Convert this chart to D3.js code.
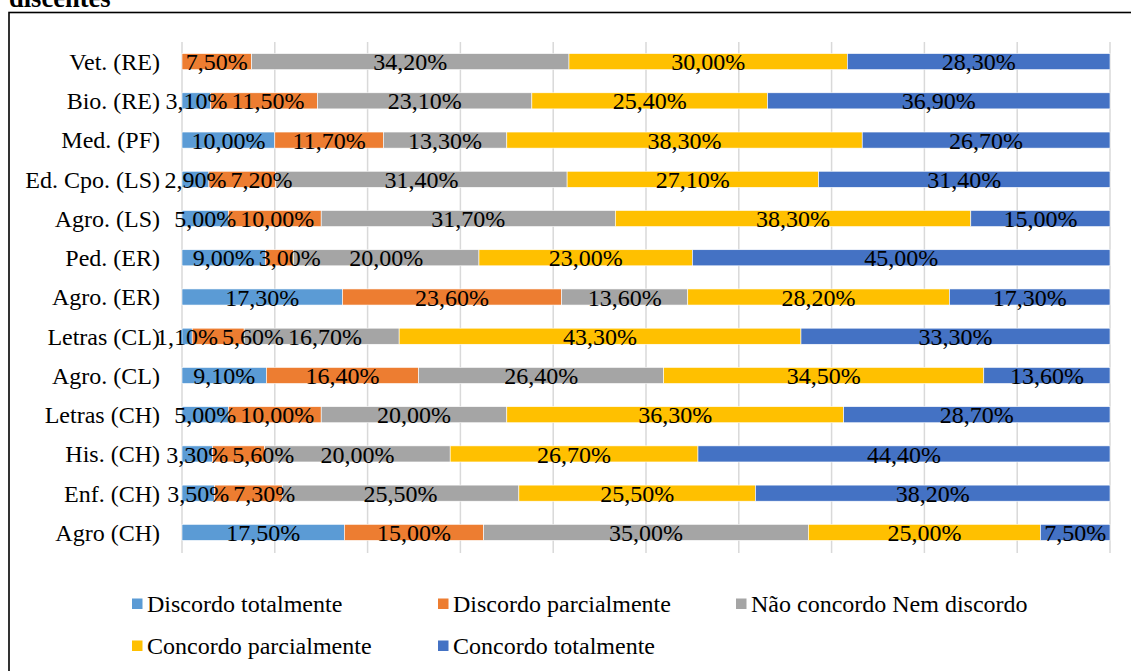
<!DOCTYPE html>
<html>
<head>
<meta charset="utf-8">
<script src="https://cdnjs.cloudflare.com/ajax/libs/d3/7.8.5/d3.min.js"></script>
<style>
  html, body { margin: 0; padding: 0; background: #fff; }
  svg { display: block; font-family: "Liberation Serif", "Times New Roman", serif; }
</style>
</head>
<body>
<svg id="chart" width="1131" height="671"></svg>
<script>
// Cursos avaliados (de cima para baixo)
const categories = [
  "Vet. (RE)", "Bio. (RE)", "Med. (PF)", "Ed. Cpo. (LS)", "Agro. (LS)",
  "Ped. (ER)", "Agro. (ER)", "Letras (CL)", "Agro. (CL)", "Letras (CH)",
  "His. (CH)", "Enf. (CH)", "Agro (CH)"
];

const seriesNames = [
  "Discordo totalmente",
  "Discordo parcialmente",
  "Não concordo Nem discordo",
  "Concordo parcialmente",
  "Concordo totalmente"
];

const seriesColors = ["#5B9BD5", "#ED7D31", "#A5A5A5", "#FFC000", "#4472C4"];

// Percentuais por categoria de resposta
const discordoTotalmente    = [0,    3.1, 10.0,  2.9,  5.0,  9.0, 17.3,  1.1,  9.1,  5.0,  3.3,  3.5, 17.5];
const discordoParcialmente  = [7.5, 11.5, 11.7,  7.2, 10.0,  3.0, 23.6,  5.6, 16.4, 10.0,  5.6,  7.3, 15.0];
const naoConcordoNemDiscordo= [34.2, 23.1, 13.3, 31.4, 31.7, 20.0, 13.6, 16.7, 26.4, 20.0, 20.0, 25.5, 35.0];
const concordoParcialmente  = [30.0, 25.4, 38.3, 27.1, 38.3, 23.0, 28.2, 43.3, 34.5, 36.3, 26.7, 25.5, 25.0];
const concordoTotalmente    = [28.3, 36.9, 26.7, 31.4, 15.0, 45.0, 17.3, 33.3, 13.6, 28.7, 44.4, 38.2,  7.5];

const gridTicks = [0, 10, 20, 30, 40, 50, 60, 70, 80, 90, 100];

const seriesValues = [
  discordoTotalmente, discordoParcialmente, naoConcordoNemDiscordo,
  concordoParcialmente, concordoTotalmente
];

const rows = categories.map((c, i) => {
  const r = { category: c };
  seriesNames.forEach((s, k) => { r[s] = seriesValues[k][i]; });
  return r;
});

const FONT = 24;
const svg = d3.select("#chart");

// Moldura e título
svg.append("text")
  .attr("x", 9).attr("y", 7)
  .attr("font-size", 26.5).attr("font-weight", "bold")
  .attr("fill", "#000")
  .text("discentes");

svg.append("rect")
  .attr("x", 9).attr("y", 12.5)
  .attr("width", 1140).attr("height", 680)
  .attr("fill", "none").attr("stroke", "#000").attr("stroke-width", 1.6);

const x = d3.scaleLinear().domain([0, 100]).range([182, 1110]);
const y = d3.scaleBand().domain(categories).range([42, 552]).paddingInner(0.59).paddingOuter(0.295);

// Linhas de grade verticais
svg.append("g")
  .selectAll("line")
  .data(gridTicks)
  .join("line")
  .attr("x1", d => x(d)).attr("x2", d => x(d))
  .attr("y1", 42).attr("y2", 553)
  .attr("stroke", "#D9D9D9").attr("stroke-width", 1.5);

const stacked = d3.stack().keys(seriesNames)(rows);

const layers = svg.append("g")
  .selectAll("g")
  .data(stacked)
  .join("g")
  .attr("fill", (d, i) => seriesColors[i]);

layers.selectAll("rect")
  .data(d => d.filter(p => p[1] - p[0] > 0))
  .join("rect")
  .attr("x", d => x(d[0]))
  .attr("y", d => y(d.data.category))
  .attr("width", d => x(d[1]) - x(d[0]))
  .attr("height", y.bandwidth())
  .attr("stroke", "#fff").attr("stroke-width", 0.6);

// Rótulos das categorias
const yAxis = d3.axisLeft(y).tickSize(0).tickPadding(0);
const yAxisG = svg.append("g").attr("transform", "translate(160,0)").call(yAxis);
yAxisG.select(".domain").remove();
yAxisG.selectAll("text")
  .attr("font-family", "Liberation Serif, Times New Roman, serif")
  .attr("font-size", FONT)
  .attr("fill", "#000")
  .attr("dy", "0.35em");

// Rótulos de valores: centrados no segmento e afastados quando se sobrepõem
const fmt = v => v.toFixed(2).replace(".", ",") + "%";
const labels = svg.append("g");
const GAP = 4;
categories.forEach((cat, i) => {
  const items = [];
  stacked.forEach(layer => {
    const p = layer[i];
    if (p[1] - p[0] <= 0) return;
    const t = labels.append("text")
      .attr("y", y(cat) + y.bandwidth() / 2)
      .attr("dy", "0.36em")
      .attr("text-anchor", "middle")
      .attr("font-size", FONT)
      .attr("fill", "#000")
      .text(fmt(p[1] - p[0]));
    const w = t.node().getComputedTextLength();
    items.push({ t, w, cx: x((p[0] + p[1]) / 2) });
  });
  let prevRight = -Infinity;
  items.forEach(it => {
    if (it.cx - it.w / 2 < prevRight + GAP) it.cx = prevRight + GAP + it.w / 2;
    prevRight = it.cx + it.w / 2;
    it.t.attr("x", it.cx);
  });
});

// Legenda
const legendPos = [
  { x: 132, y: 604 }, { x: 438, y: 604 }, { x: 736, y: 604 },
  { x: 132, y: 646 }, { x: 438, y: 646 }
];
const legend = svg.append("g")
  .selectAll("g")
  .data(seriesNames)
  .join("g")
  .attr("transform", (d, i) => `translate(${legendPos[i].x},${legendPos[i].y})`);

legend.append("rect")
  .attr("x", 0).attr("y", -5.5)
  .attr("width", 10.5).attr("height", 10.5)
  .attr("fill", (d, i) => seriesColors[i]);

legend.append("text")
  .attr("x", 15).attr("y", 0).attr("dy", "0.35em")
  .attr("font-size", FONT)
  .attr("fill", "#000")
  .text(d => d);
</script>
</body>
</html>
